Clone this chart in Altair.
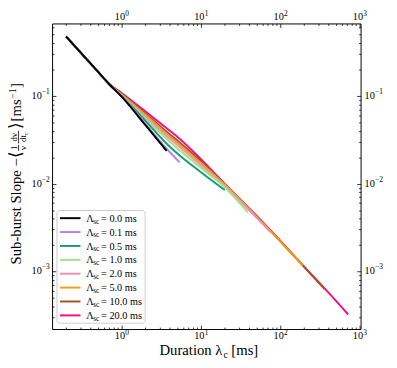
import altair as alt
import pandas as pd

W, H = 315, 312
FONT = "Liberation Serif"

# ---- data ----
lam_labels = ["0.0", "0.1", "0.5", "1.0", "2.0", "5.0", "10.0", "20.0"]
lam_colors = ["#000000", "#b384e6", "#139e78", "#a3e07f", "#f48fba", "#eea20c", "#a0522d", "#fb0c86"]

dur_00 = [0.2, 0.5, 0.7, 1.0, 2.0, 3.7]
slope_00 = [0.476, 0.19, 0.136, 0.098, 0.0465, 0.0237]
dur_01 = [0.2, 0.5, 0.7, 1.0, 2.0, 3.7, 5.4]
slope_01 = [0.476, 0.19, 0.135, 0.099, 0.048, 0.025, 0.0175]
dur_05 = [0.2, 0.5, 0.7, 1.0, 2.0, 3.7, 5.0, 10.0, 20.0]
slope_05 = [0.476, 0.19, 0.135, 0.100, 0.052, 0.0285, 0.0222, 0.0135, 0.00845]
dur_10 = [0.2, 0.5, 0.7, 1.0, 2.0, 3.7, 5.0, 10.0, 20.0, 39.0]
slope_10 = [0.476, 0.19, 0.135, 0.101, 0.055, 0.0325, 0.0255, 0.0152, 0.0091, 0.0047]
dur_20 = [0.2, 0.5, 0.7, 1.0, 2.0, 3.7, 5.0, 10.0, 20.0, 50.0, 75.0]
slope_20 = [0.476, 0.19, 0.135, 0.102, 0.058, 0.035, 0.0277, 0.0162, 0.0094, 0.0041, 0.0028]
dur_50 = [0.2, 0.5, 0.7, 1.0, 2.0, 3.7, 5.0, 10.0, 20.0, 50.0, 100.0, 193.0]
slope_50 = [0.476, 0.19, 0.136, 0.104, 0.061, 0.037, 0.0295, 0.0172, 0.0097, 0.0042, 0.0022, 0.00117]
dur_100 = [0.2, 0.5, 0.7, 1.0, 2.0, 3.7, 5.0, 10.0, 20.0, 50.0, 100.0, 193.0, 362.0]
slope_100 = [0.476, 0.19, 0.136, 0.106, 0.063, 0.039, 0.0312, 0.018, 0.0098, 0.0043, 0.0022, 0.00116, 0.00063]
dur_200 = [0.2, 0.5, 0.7, 1.0, 2.0, 3.7, 5.0, 10.0, 20.0, 50.0, 100.0, 200.0, 400.0, 719.0]
slope_200 = [0.476, 0.19, 0.137, 0.108, 0.0665, 0.0428, 0.0345, 0.019, 0.00995, 0.0043, 0.00224, 0.00113, 0.00058, 0.000322]

durations = [dur_00, dur_01, dur_05, dur_10, dur_20, dur_50, dur_100, dur_200]
slopes = [slope_00, slope_01, slope_05, slope_10, slope_20, slope_50, slope_100, slope_200]

# tick labels
x_major = [1, 10, 100, 1000]
x_exps = ["0", "1", "2", "3"]
y_major = [0.1, 0.01, 0.001]
y_exps = ["−1", "−2", "−3"]

rows = []
for lab, xs_, ys_ in zip(lam_labels, durations, slopes):
    for a, b in zip(xs_, ys_):
        rows.append({"lam": lab, "dur": a, "slope": b})
df = pd.DataFrame(rows)

x_minor = [m * 10 ** e for e in (-1, 0, 1, 2) for m in range(2, 10)]
x_minor = [v for v in x_minor if 0.133 <= v <= 1029]
y_minor = [m * 10 ** e for e in (-4, -3, -2, -1) for m in range(2, 10)]
y_minor = [v for v in y_minor if 2.2e-4 <= v <= 0.67]

xscale = alt.Scale(type="log", domain=[0.133, 1029], nice=False)
yscale = alt.Scale(type="log", domain=[2.2e-4, 0.67], nice=False)

layers = []
# lines, drawn with largest scattering first (black on top)
for i in reversed(range(len(lam_labels))):
    layers.append(
        alt.Chart(df).transform_filter(alt.datum.lam == lam_labels[i])
        .mark_line(color=lam_colors[i], strokeWidth=2, interpolate="monotone")
        .encode(x=alt.X("dur:Q", scale=xscale, axis=None),
                y=alt.Y("slope:Q", scale=yscale, axis=None),
                order="dur:Q")
    )


def dom_axis(orient):
    return alt.Axis(orient=orient, values=[], labels=False, ticks=False,
                    domain=True, domainColor="black", domainWidth=1, grid=False,
                    title=None)


def tick_axis(orient, values, size, off):
    return alt.Axis(orient=orient, values=values, labels=False, domain=False,
                    grid=False, ticks=True, tickSize=size, tickColor="black",
                    tickWidth=0.8, offset=off, title=None)


axis_pairs = [
    (dom_axis("bottom"), dom_axis("left")),
    (dom_axis("top"), dom_axis("right")),
    (tick_axis("top", x_major, 4, -H), tick_axis("left", y_major, 4, -W)),
    (tick_axis("top", x_minor, 2, -H), tick_axis("left", y_minor, 2, -W)),
    (tick_axis("bottom", x_major, 4, -H), tick_axis("right", y_major, 4, -W)),
    (tick_axis("bottom", x_minor, 2, -H), tick_axis("right", y_minor, 2, -W)),
]
for xa, ya in axis_pairs:
    layers.append(
        alt.Chart(df).mark_point(opacity=0).encode(
            x=alt.X("dur:Q", scale=xscale, axis=xa),
            y=alt.Y("slope:Q", scale=yscale, axis=ya))
    )

# tick labels as "10" + superscript
xlab = pd.DataFrame({"v": x_major, "e": x_exps})
ylab = pd.DataFrame({"v": y_major, "e": y_exps})
for ten_base, sup_base in ((-4, -7.2), (H + 10.5, H + 6)):
    layers.append(
        alt.Chart(xlab).mark_text(text="10", font=FONT, fontSize=10.5, align="right",
                                  baseline="alphabetic", dx=3.6, color="black")
        .encode(x=alt.X("v:Q", scale=xscale, axis=None), y=alt.value(ten_base)))
    layers.append(
        alt.Chart(xlab).mark_text(font=FONT, fontSize=7.5, align="left",
                                  baseline="alphabetic", dx=3.8, color="black")
        .encode(x=alt.X("v:Q", scale=xscale, axis=None), y=alt.value(sup_base), text="e:N"))
for xpos_ten, xpos_sup, al in ((-10.5, -10.5, "right"), (W + 4, W + 14.8, "left")):
    layers.append(
        alt.Chart(ylab).mark_text(text="10", font=FONT, fontSize=10.5, align=al,
                                  baseline="middle", color="black")
        .encode(x=alt.value(xpos_ten), y=alt.Y("v:Q", scale=yscale, axis=None)))
    layers.append(
        alt.Chart(ylab).mark_text(font=FONT, fontSize=7.5, align="left",
                                  baseline="middle", dy=-4, color="black")
        .encode(x=alt.value(xpos_sup), y=alt.Y("v:Q", scale=yscale, axis=None), text="e:N"))

one = pd.DataFrame({"k": [0]})


def txt(s, x, y, size=15, align="left", angle=0):
    return alt.Chart(one).mark_text(
        text=s, fontSize=size, font=FONT, align=align, baseline="alphabetic",
        angle=angle, color="black").encode(x=alt.value(x), y=alt.value(y))


def rule(x1, x2, y1, y2, color="black", w=0.8):
    return alt.Chart(one).mark_rule(color=color, strokeWidth=w).encode(
        x=alt.value(x1), x2=alt.value(x2), y=alt.value(y1), y2=alt.value(y2))


# legend
layers.append(
    alt.Chart(one).mark_rect(fill="white", fillOpacity=0.8, stroke="#cccccc",
                             strokeWidth=1, cornerRadius=3)
    .encode(x=alt.value(5), x2=alt.value(95), y=alt.value(191), y2=alt.value(306))
)
for i, (lab, col) in enumerate(zip(lam_labels, lam_colors)):
    cy = 198.8 + 14.18 * i
    layers.append(rule(8, 29, cy, cy, col, 2))
    layers.append(txt("Λ", 35, cy + 3.7, 10.5))
    layers.append(txt("sc", 42, cy + 5.5, 7.5))
    layers.append(txt("= " + lab + " ms", 50, cy + 3.7, 10.5))

# x title
layers.append(txt("Duration λ", 174, 339, 15, "right"))
layers.append(txt("c", 175, 342, 10))
layers.append(txt("[ms]", 183, 339, 15))

# y title (rotated)
bx = -31.5
layers.append(txt("Sub-burst Slope", bx, 246, 15, "left", 270))
layers.append(txt("−", bx, 146, 15, "left", 270))
layers.append(txt("⟨", bx, 137, 17, "left", 270))
# fraction 1/nu
layers.append(txt("1", -35.5, 129.3, 9, "left", 270))
layers.append(rule(-34.2, -34.2, 130, 124))
layers.append(txt("ν", -26.5, 129.3, 9, "left", 270))
# fraction dnu/dt_c
layers.append(txt("dν", -35.5, 120.5, 9, "left", 270))
layers.append(rule(-34.2, -34.2, 122.5, 109.5))
layers.append(txt("dt", -26.5, 121, 9, "left", 270))
layers.append(txt("c", -24.5, 114, 6.5, "left", 270))
layers.append(txt("⟩", bx, 108, 17, "left", 270))
layers.append(txt("[ms", bx, 100, 15, "left", 270))
layers.append(txt("−1", bx - 5, 77, 10, "left", 270))
layers.append(txt("]", bx, 66, 15, "left", 270))

chart = (
    alt.layer(*layers)
    .resolve_axis(x="independent", y="independent")
    .properties(width=W, height=H,
                autosize=alt.AutoSizeParams(type="none"),
                padding={"left": 45, "top": 12, "right": 29, "bottom": 36})
    .configure_view(stroke=None)
)

chart.save("out.html", embed_options={"renderer": "svg", "actions": False})
